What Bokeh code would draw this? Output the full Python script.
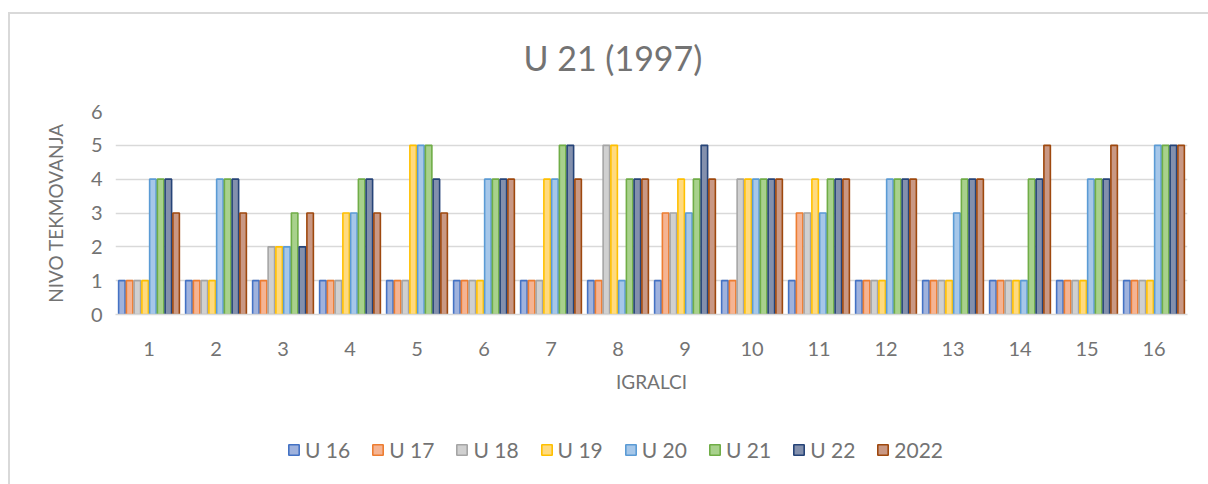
from bokeh.plotting import figure
from bokeh.layouts import column
from bokeh.models import FactorRange, Range1d, FixedTicker, Legend, LegendItem, ColumnDataSource, Title
from bokeh.transform import dodge
from bokeh.embed import file_html
from bokeh.resources import INLINE

players = [str(i) for i in range(1, 17)]
series_names = ["U 16", "U 17", "U 18", "U 19", "U 20", "U 21", "U 22", "2022"]
u16 = [1, 1, 1, 1, 1, 1, 1, 1, 1, 1, 1, 1, 1, 1, 1, 1]
u17 = [1, 1, 1, 1, 1, 1, 1, 1, 3, 1, 3, 1, 1, 1, 1, 1]
u18 = [1, 1, 2, 1, 1, 1, 1, 5, 3, 4, 3, 1, 1, 1, 1, 1]
u19 = [1, 1, 2, 3, 5, 1, 4, 5, 4, 4, 4, 1, 1, 1, 1, 1]
u20 = [4, 4, 2, 3, 5, 4, 4, 1, 3, 4, 3, 4, 3, 1, 4, 5]
u21 = [4, 4, 3, 4, 5, 4, 5, 4, 4, 4, 4, 4, 4, 4, 4, 5]
u22 = [4, 4, 2, 4, 4, 4, 5, 4, 5, 4, 4, 4, 4, 4, 4, 5]
y2022 = [3, 3, 3, 3, 3, 4, 4, 4, 4, 4, 4, 4, 4, 5, 5, 5]
y_ticks = [0, 1, 2, 3, 4, 5, 6]

line_colors = ["#4472C4", "#ED7D31", "#A5A5A5", "#FFC000", "#5B9BD5", "#70AD47", "#264478", "#9E480E"]
fill_colors = ["#9fb2dd", "#f5b493", "#d0d0d0", "#ffda7f", "#a6c7e9", "#a8d18c", "#8390ad", "#c99884"]

data = dict(x=players, s0=u16, s1=u17, s2=u18, s3=u19, s4=u20, s5=u21, s6=u22, s7=y2022)
src = ColumnDataSource(data)

FONT = "Lato"
GRAY = "#737373"
BORDER = "#d9d9d9"

H1 = 430
p = figure(width=1208, height=H1, x_range=FactorRange(factors=players, range_padding=0),
           y_range=Range1d(0, 6), output_backend="svg", toolbar_location=None,
           min_border_left=115, min_border_right=21, min_border_top=111, min_border_bottom=H1 - 314)
p.title = None
p.add_layout(Title(text="U 21 (1997)", align="left", text_font=FONT, text_font_size="34px",
                   text_color=GRAY, text_font_style="normal", standoff=68, offset=408), "above")
p.border_fill_color = None
p.background_fill_color = "white"
p.styles = {"background": "linear-gradient(%s,%s) 8px 12px / 2px 100%% no-repeat, "
                          "linear-gradient(%s,%s) 8px 12px / 100%% 2px no-repeat, white" % (BORDER, BORDER, BORDER, BORDER)}

slot = 0.1157
renderers = []
for i in range(8):
    off = (i - 3.5) * slot
    r = p.vbar(x=dodge("x", off, range=p.x_range), top="s%d" % i, width=0.097, source=src,
               fill_color=fill_colors[i], line_color=line_colors[i], line_width=1.6)
    renderers.append(r)

p.yaxis.ticker = FixedTicker(ticks=y_ticks)
p.yaxis.axis_label = "NIVO TEKMOVANJA"
p.xaxis.axis_label = "IGRALCI"
for ax in (p.xaxis, p.yaxis):
    ax.axis_label_text_font = FONT
    ax.axis_label_text_font_size = "19px"
    ax.axis_label_text_font_style = "normal"
    ax.axis_label_text_color = GRAY
    ax.major_label_text_font = FONT
    ax.major_label_text_font_size = "20px"
    ax.major_label_text_color = GRAY
    ax.major_tick_line_color = None
    ax.minor_tick_line_color = None
p.yaxis.axis_line_color = None
p.xaxis.axis_line_color = BORDER
p.xaxis.axis_line_width = 1.5
p.xaxis.major_label_standoff = 21
p.xaxis.axis_label_standoff = 11
p.yaxis.major_label_standoff = 7
p.yaxis.axis_label_standoff = 21
p.xgrid.grid_line_color = None
p.ygrid.grid_line_color = BORDER
p.ygrid.grid_line_width = 1.5
p.outline_line_color = None

# legend strip
H2 = 484 - H1
lp = figure(width=1208, height=H2, x_range=Range1d(0, 1), y_range=Range1d(0, 1),
            output_backend="svg", toolbar_location=None,
            min_border_left=0, min_border_right=0, min_border_top=0, min_border_bottom=0)
lp.axis.visible = False
lp.grid.visible = False
lp.outline_line_color = None
lp.border_fill_color = None
lp.background_fill_color = None
lp.styles = {"background": "linear-gradient(%s,%s) 8px 0px / 2px 100%% no-repeat, white" % (BORDER, BORDER)}
lrs = []
for i in range(8):
    # placeholder glyphs hidden behind the opaque legend box
    r = lp.vbar(x=[0.5], bottom=[0.55], top=[0.6], width=0.004, fill_color=fill_colors[i],
                line_color=line_colors[i], line_width=1.6)
    lrs.append(r)
legend = Legend(items=[LegendItem(label=series_names[i], renderers=[lrs[i]]) for i in range(8)],
                orientation="horizontal", location=(172, H2 - 32), label_text_font=FONT,
                label_text_font_size="21px", label_text_color=GRAY, glyph_width=13, glyph_height=13,
                spacing=21, label_standoff=5, border_line_color=None, margin=0, padding=0,
                background_fill_color="white", background_fill_alpha=1)
lp.add_layout(legend, "center")

open("out.html", "w").write(file_html(column(p, lp, spacing=0), INLINE))
